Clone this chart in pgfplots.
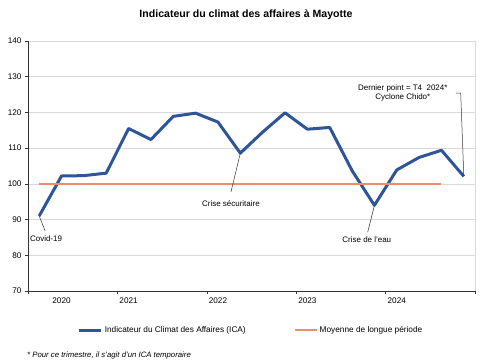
\documentclass[border=0pt]{standalone}
\usepackage{pgfplots}
\pgfplotsset{compat=1.18}
\usepackage{fontspec}
\setmainfont{Liberation Sans}
\definecolor{icablue}{RGB}{46,85,151}
\definecolor{moyorange}{RGB}{240,140,110}
\definecolor{gridgray}{RGB}{217,217,217}
\begin{document}
\begin{tikzpicture}
\path[use as bounding box] (0,0) rectangle (485bp,360bp);
\node[font=\bfseries\fontsize{10.6}{12}\selectfont] at (246bp,345bp) {Indicateur du climat des affaires à Mayotte};
\node[anchor=north west,font=\itshape\fontsize{7.8}{9}\selectfont,inner sep=0pt] at (27bp,8.5bp) {* Pour ce trimestre, il s'agit d'un ICA temporaire};
\begin{axis}[
  at={(28bp,69bp)}, anchor=south west,
  scale only axis, width=447bp, height=250bp,
  xmin=-0.5, xmax=19.5, ymin=70, ymax=140,
  axis lines=left, axis line style={-, black!80, line width=0.8pt},
  ytick={70,80,...,140},
  xtick={-0.5,3.5,7.5,11.5,15.5,19.5}, xticklabels={},
  extra x ticks={1,4,8,12,16},
  extra x tick labels={2020,2021,2022,2023,2024},
  extra x tick style={major tick length=0pt},
  tick align=outside, major tick length=3bp,
  tick style={black!80, line width=0.6pt},
  ymajorgrids, grid style={gridgray, line width=0.7pt},
  ticklabel style={font=\fontsize{8.2}{9}\selectfont},
  /pgf/number format/assume math mode=true,
  xticklabel style={yshift=-3bp},
  clip=false,
  legend columns=2,
  legend style={draw=none, fill=none, at={(0.499,-0.156)}, anchor=center,
    font=\fontsize{8.3}{9}\selectfont,
    /tikz/every even column/.append style={column sep=46bp}},
  legend image code/.code={\draw[#1] (0bp,0bp) -- (22bp,0bp);},
]
\draw[gridgray, line width=0.7pt] (rel axis cs:1,0) -- (rel axis cs:1,1);
\addplot[icablue, line width=3bp, line join=round] coordinates {
(0,91.0) (1,102.2) (2,102.3) (3,103.0) (4,115.5) (5,112.4) (6,118.9) (7,119.8)
(8,117.3) (9,108.6) (10,114.5) (11,119.9) (12,115.3) (13,115.8) (14,103.7)
(15,94.0) (16,103.9) (17,107.4) (18,109.4) (19,102.1)};
\addlegendentry{Indicateur du Climat des Affaires (ICA)}
\addplot[moyorange, line width=2bp] coordinates {(0,100) (18,100)};
\addlegendentry{Moyenne de longue période}
\draw[black!80, line width=0.5pt] (axis cs:0,91) -- (axis cs:0.27,86.8);
\node[font=\fontsize{8}{9}\selectfont] at (axis cs:0.31,84.6) {Covid-19};
\draw[black!80, line width=0.5pt] (axis cs:9,108.6) -- (axis cs:8.58,97.7);
\node[font=\fontsize{8}{9}\selectfont] at (axis cs:8.58,94.6) {Crise sécuritaire};
\draw[black!80, line width=0.5pt] (axis cs:15,94) -- (axis cs:14.7,86.5);
\node[font=\fontsize{8}{9}\selectfont] at (axis cs:14.66,84.3) {Crise de l'eau};
\draw[black!80, line width=0.5pt] (axis cs:18.64,125.4) -- (axis cs:18.86,125.4) -- (axis cs:19,102.1);
\node[font=\fontsize{8}{9.5}\selectfont, align=center] at (axis cs:16.27,125.4) {Dernier point = T4\ \ 2024*\\Cyclone Chido*};
\end{axis}
\end{tikzpicture}
\end{document}
